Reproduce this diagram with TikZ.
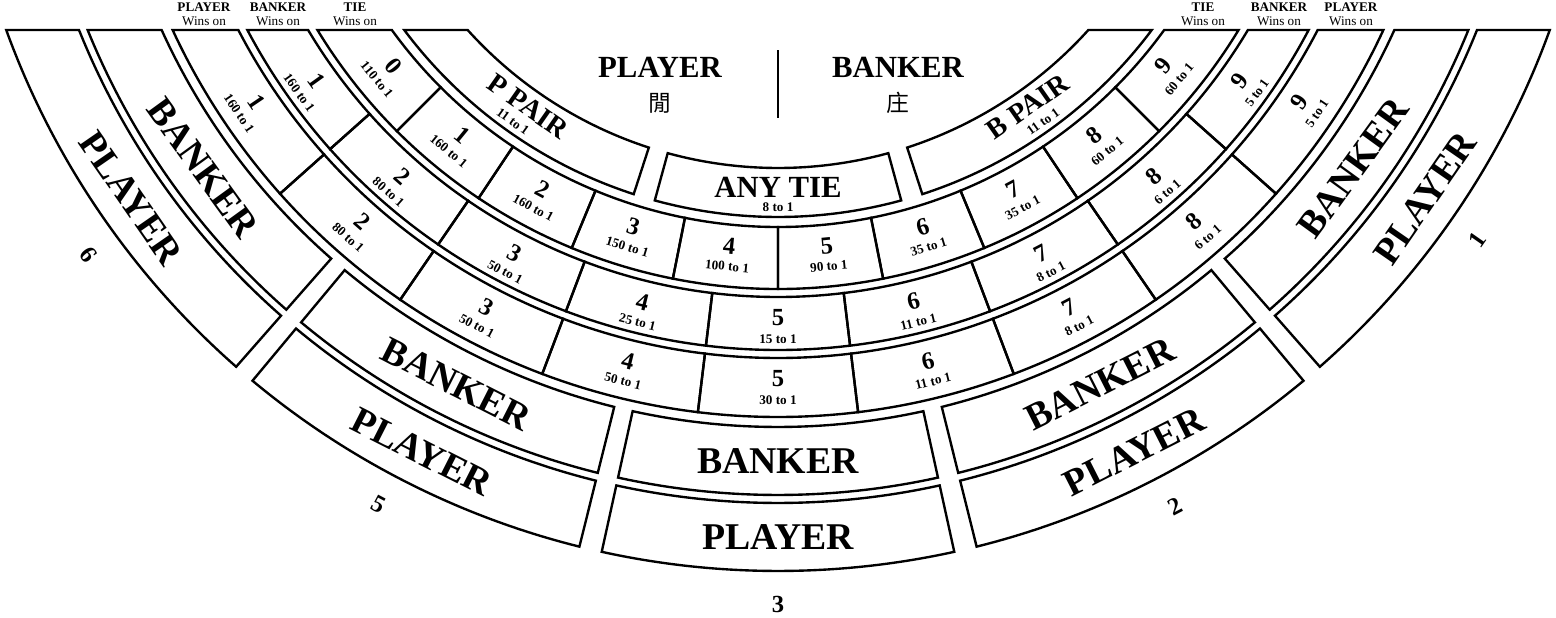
\documentclass[tikz,border=0pt]{standalone}
\usepackage{fontspec}
\setmainfont{Liberation Serif}
\newfontfamily\cjkfont{Noto Sans CJK TC}
\newcommand\zqcell[6]{%
  \pgfmathsetmacro\zqa{-90+(#3)}%
  \pgfmathsetmacro\zqb{-90+(#4)}%
  \pgfmathsetmacro\zqc{-90+(#5)}%
  \pgfmathsetmacro\zqd{-90+(#6)}%
  \draw (\zqc:#2) arc[start angle=\zqc, end angle=\zqd, radius=#2] -- (\zqb:#1) arc[start angle=\zqb, end angle=\zqa, radius=#1] -- cycle;}
\begin{document}
\begin{tikzpicture}[line width=1.35pt, line join=miter, miter limit=4,
  seat/.style={font=\fontsize{21.5}{22}\selectfont\bfseries, inner sep=0pt},
  num/.style={font=\fontsize{14}{14}\selectfont\bfseries, inner sep=0pt},
  odds/.style={font=\fontsize{7.5}{8}\selectfont\bfseries, inner sep=0pt},
  big/.style={font=\fontsize{17.5}{18}\selectfont\bfseries, inner sep=0pt},
  pair/.style={font=\fontsize{16}{17}\selectfont\bfseries, inner sep=0pt},
  cjk/.style={font=\cjkfont\fontsize{13}{13}\selectfont, inner sep=0pt},
  winlbl/.style={font=\fontsize{7.5}{8}\selectfont, align=center, inner sep=0pt, anchor=south},
  spotnum/.style={font=\fontsize{14}{14}\selectfont\bfseries, inner sep=0pt}]
\useasboundingbox (0,0) rectangle (31.12,-12.34);
% header labels
\node[winlbl] (lpw) at (4.08,-0.53) {\textbf{PLAYER}\\Wins on};
\node[winlbl] (lbw) at (5.56,-0.53) {\textbf{BANKER}\\Wins on};
\node[winlbl] (ltw) at (7.10,-0.53) {\textbf{TIE}\\Wins on};
\node[winlbl] (rtw) at (24.06,-0.53) {\textbf{TIE}\\Wins on};
\node[winlbl] (rbw) at (25.58,-0.53) {\textbf{BANKER}\\Wins on};
\node[winlbl] (rpw) at (27.02,-0.53) {\textbf{PLAYER}\\Wins on};
\node[big] (hp) at (13.2,-1.34) {PLAYER};
\node[cjk] (hpc) at (13.2,-2.06) {閒};
\node[big] (hb) at (17.96,-1.34) {BANKER};
\node[cjk] (hbc) at (17.96,-2.06) {庄};
\draw[line width=1pt] (15.56,-1.0) -- (15.56,-2.36);
\begin{scope}[shift={(15.56,5.0)}]
\def\Ai{8.36}\def\Ao{9.34}\def\Bi{9.54}\def\Bo{10.78}
\def\Ci{10.94}\def\Co{12.00}\def\Di{12.16}\def\Do{13.34}
\def\Ei{13.54}\def\Eo{14.90}\def\Fi{15.06}\def\Fo{16.42}
\pgfmathsetmacro\tAi{acos(5.6/\Ai)}\pgfmathsetmacro\tAo{acos(5.6/\Ao)}
\pgfmathsetmacro\tBi{acos(5.6/\Bi)}\pgfmathsetmacro\tBo{acos(5.6/\Bo)}
\pgfmathsetmacro\tCi{acos(5.6/\Ci)}\pgfmathsetmacro\tCo{acos(5.6/\Co)}
\pgfmathsetmacro\tDi{acos(5.6/\Di)}\pgfmathsetmacro\tDo{acos(5.6/\Do)}
\pgfmathsetmacro\tEi{acos(5.6/\Ei)}\pgfmathsetmacro\tEo{acos(5.6/\Eo)}
\pgfmathsetmacro\tFi{acos(5.6/\Fi)}\pgfmathsetmacro\tFo{acos(5.6/\Fo)}
% ring A
\zqcell{\Ai}{\Ao}{-\tAi}{-18}{-\tAo}{-18}
\zqcell{\Ai}{\Ao}{-15.3}{15.3}{-15.3}{15.3}
\zqcell{\Ai}{\Ao}{18}{\tAi}{18}{\tAo}
% ring B (tie)
\zqcell{\Bi}{\Bo}{-\tBi}{-45}{-\tBo}{-45}
\foreach \p/\q in {-45/-33.75,-33.75/-22.5,-22.5/-11.25,-11.25/0,0/11.25,11.25/22.5,22.5/33.75,33.75/45}
  {\zqcell{\Bi}{\Bo}{\p}{\q}{\p}{\q}}
\zqcell{\Bi}{\Bo}{45}{\tBi}{45}{\tBo}
% ring C (banker wins)
\zqcell{\Ci}{\Co}{-\tCi}{-48.3}{-\tCo}{-48.3}
\foreach \p/\q in {-48.3/-34.5,-34.5/-20.7,-20.7/-6.9,-6.9/6.9,6.9/20.7,20.7/34.5,34.5/48.3}
  {\zqcell{\Ci}{\Co}{\p}{\q}{\p}{\q}}
\zqcell{\Ci}{\Co}{48.3}{\tCi}{48.3}{\tCo}
% ring D (player wins)
\zqcell{\Di}{\Do}{-\tDi}{-48.3}{-\tDo}{-48.3}
\foreach \p/\q in {-48.3/-34.5,-34.5/-20.7,-20.7/-6.9,-6.9/6.9,6.9/20.7,20.7/34.5,34.5/48.3}
  {\zqcell{\Di}{\Do}{\p}{\q}{\p}{\q}}
\zqcell{\Di}{\Do}{48.3}{\tDi}{48.3}{\tDo}
% ring E (banker seats)
\zqcell{\Ei}{\Eo}{-\tEi}{-41.3}{-\tEo}{-41.3}
\foreach \p/\q in {-39.8/-14,-12.4/12.4,14/39.8}
  {\zqcell{\Ei}{\Eo}{\p}{\q}{\p}{\q}}
\zqcell{\Ei}{\Eo}{41.3}{\tEi}{41.3}{\tEo}
% ring F (player seats)
\zqcell{\Fi}{\Fo}{-\tFi}{-41.3}{-\tFo}{-41.3}
\foreach \p/\q in {-39.8/-14,-12.4/12.4,14/39.8}
  {\zqcell{\Fi}{\Fo}{\p}{\q}{\p}{\q}}
\zqcell{\Fi}{\Fo}{41.3}{\tFi}{41.3}{\tFo}
% ring A texts
\node[pair, rotate=-35] (pp) at (-125:8.70) {P PAIR};
\node[odds, rotate=-35.5] (ppo) at (-125.5:9.13) {11 to 1};
\node[big] (at) at (-90:8.74) {ANY TIE};
\node[odds] (ato) at (-90:9.15) {8 to 1};
\node[pair, rotate=35] (bp) at (-55:8.70) {B PAIR};
\node[odds, rotate=35.5] (bpo) at (-54.5:9.13) {11 to 1};
% ring B texts
\foreach \pp/\nn/\oo in {-50.6/0/110,-39.375/1/160,-28.125/2/160,-16.875/3/150,-5.625/4/100,5.625/5/90,16.875/6/35,28.125/7/35,39.375/8/60,50.6/9/60}
  {\node[num, rotate=\pp] (tn\nn) at ({-90+\pp}:9.96) {\nn};
   \node[odds, rotate=\pp] (to\nn) at ({-90+\pp}:10.38) {\oo\ to 1};}
% ring C texts
\foreach \pp/\nn/\oo in {-54.4/1/160,-41.4/2/80,-27.6/3/50,-13.8/4/25,0/5/15,13.8/6/11,27.6/7/8,41.4/8/6,54.4/9/5}
  {\node[num, rotate=\pp] (bn\nn) at ({-90+\pp}:11.36) {\nn};
   \node[odds, rotate=\pp] (bo\nn) at ({-90+\pp}:11.78) {\oo\ to 1};}
% ring D texts
\foreach \pp/\nn/\oo in {-56/1/160,-41.4/2/80,-27.6/3/50,-13.8/4/50,0/5/30,13.8/6/11,27.6/7/8,41.4/8/6,56/9/5}
  {\node[num, rotate=\pp] (pn\nn) at ({-90+\pp}:12.58) {\nn};
   \node[odds, rotate=\pp] (po\nn) at ({-90+\pp}:13.00) {\oo\ to 1};}
% seat texts
\foreach \pp/\ss in {-54/6,-26.9/5,0/3,26.9/2,54/1}
  {\node[seat, rotate=\pp] (sb\ss) at ({-90+\pp}:14.22) {BANKER};}
\foreach \pp/\ss in {-55.3/6,-26.9/5,0/3,26.9/2,55.3/1}
  {\node[seat, rotate=\pp] (sp\ss) at ({-90+\pp}:15.74) {PLAYER};}
\foreach \pp/\ss in {-53.8/6,-27.9/5,0/3,27.7/2,55/1}
  {\node[spotnum, rotate=\pp] (sn\ss) at ({-90+\pp}:17.08) {\ss};}
\end{scope}
\end{tikzpicture}
\end{document}
